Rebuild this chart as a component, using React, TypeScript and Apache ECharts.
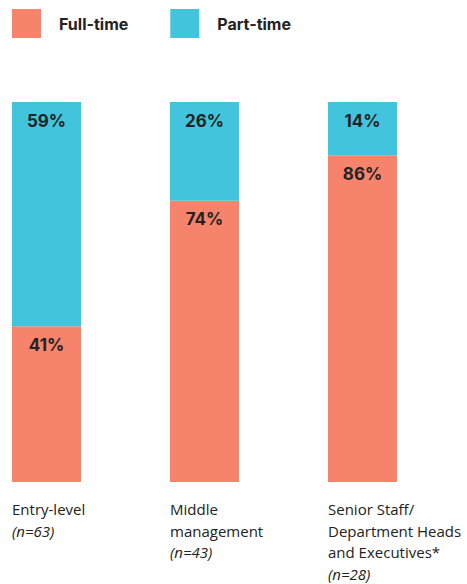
import React, { useEffect, useRef } from "react";
import * as echarts from "echarts";

const categories = ["Entry-level", "Middle\nmanagement", "Senior Staff/\nDepartment Heads\nand Executives*"];
const sampleSizes = ["(n=63)", "(n=43)", "(n=28)"];
const fullTime = [41, 74, 86];
const partTime = [59, 26, 14];
const seriesNames = ["Full-time", "Part-time"];

const FONT = "Inter, 'Noto Sans', sans-serif";
const LABEL_FONT = "'Open Sans', sans-serif";

export default function App() {
  const ref = useRef<HTMLDivElement>(null);
  useEffect(() => {
    if (!ref.current) return;
    const chart = echarts.init(ref.current, null, { renderer: "svg" });
    const valueLabel = {
      show: true,
      position: "insideTop" as const,
      distance: 10,
      formatter: "{c}%",
      color: "#222222",
      fontFamily: FONT,
      fontWeight: 700,
      fontSize: 17,
    };
    chart.setOption({
      animation: false,
      legend: {
        left: 12,
        top: 9,
        padding: 0,
        itemWidth: 29,
        itemHeight: 29,
        itemGap: 42,
        icon: "rect",
        textStyle: {
          fontFamily: FONT,
          fontWeight: 700,
          fontSize: 16,
          color: "#222222",
          padding: [0, 0, 0, 13],
        },
        data: seriesNames,
      },
      grid: { left: -32.5, width: 474, top: 102, bottom: 102, outerBoundsMode: "none", containLabel: false },
      xAxis: {
        type: "category",
        data: categories.map((c, i) => c + "\n" + sampleSizes[i]),
        axisLine: { show: false },
        axisTick: { show: false },
        axisLabel: {
          interval: 0,
          hideOverlap: false,
          margin: 16,
          verticalAlign: "top",
          formatter: (v: string) => {
            const lines = v.split("\n");
            const last = lines.pop();
            return lines.map((l) => "{a|" + l + "}").join("\n") + "\n{b|" + last + "}";
          },
          rich: {
            a: { fontFamily: LABEL_FONT, fontWeight: 500, fontSize: 15, color: "#222222", width: 69, align: "left", lineHeight: 21.7 },
            b: { fontFamily: LABEL_FONT, fontStyle: "italic", fontSize: 15, color: "#222222", width: 69, align: "left", lineHeight: 21.7 },
          },
        },
      },
      yAxis: { type: "value", min: 0, max: 100, show: false },
      series: [
        {
          name: seriesNames[0],
          type: "bar",
          stack: "s",
          barWidth: 69,
          data: fullTime,
          itemStyle: { color: "#F6836C" },
          label: valueLabel,
        },
        {
          name: seriesNames[1],
          type: "bar",
          stack: "s",
          barWidth: 69,
          data: partTime,
          itemStyle: { color: "#41C4DC" },
          label: valueLabel,
        },
      ],
    });
    return () => chart.dispose();
  }, []);
  return <div ref={ref} style={{ width: 467, height: 584, position: "absolute", left: 0, top: 0 }} />;
}
